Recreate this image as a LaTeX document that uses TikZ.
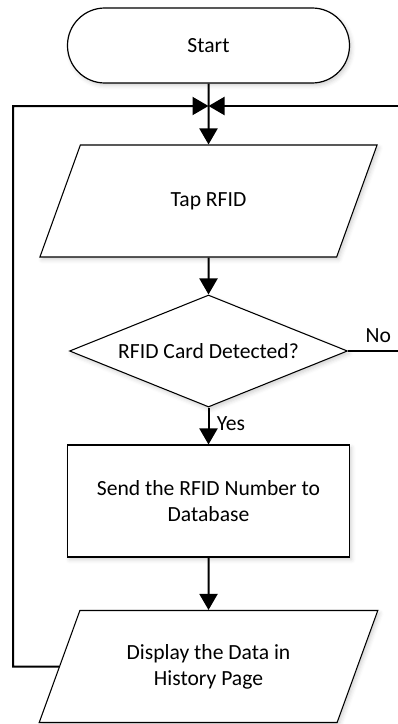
\documentclass[tikz,border=0pt]{standalone}
\usepackage{fontspec}
\setmainfont{Carlito}
\usetikzlibrary{shapes.geometric,arrows.meta,shadows.blur}

\begin{document}
\begin{tikzpicture}[x=0.75pt,y=-0.75pt,
    font=\fontsize{16.2}{19.5}\selectfont,
    glow/.style={blur shadow={shadow xshift=1.5pt,shadow yshift=-2pt,shadow opacity=18,shadow blur radius=3pt}},
    term/.style={draw,line width=0.9pt,fill=white,glow,rectangle,rounded corners=28pt,minimum width=211.5pt,minimum height=56.25pt},
    io/.style={draw,line width=0.8pt,fill=white,glow,trapezium,align=center,trapezium left angle=63,trapezium right angle=117,trapezium stretches=true,minimum width=254.25pt,minimum height=84pt},
    dec/.style={draw,line width=0.8pt,fill=white,glow,diamond,aspect=2.5,inner sep=0pt,minimum width=208.5pt,minimum height=84pt},
    proc/.style={draw,line width=0.8pt,fill=white,glow,rectangle,align=center,minimum width=211.5pt,minimum height=84pt},
    conn/.style={line width=1.5pt,-{Triangle[width=13.5pt,length=12pt]}}]

    \useasboundingbox (0,0) rectangle (397,724);

    % Start
    \node (start) [term] at (208.5,45.5) {Start};

    % Tap RFID
    \node (tap) [io] at (208.5,201) {Tap RFID};

    % RFID check
    \node (check) [dec] at (208.5,351) {RFID Card Detected?};

    % Send number
    \node (send) [proc] at (208.5,501) {Send the RFID Number to\\Database};

    % Display data
    \node (disp) [io] at (208.5,666.5) {Display the Data in\\History Page};

    % Labels
    \node (nolbl) [anchor=south west,inner sep=0pt] at ([xshift=13pt,yshift=6pt]check.east) {No};
    \node (yeslbl) [anchor=north west,inner sep=0pt] at ([xshift=6pt,yshift=-7pt]check.south) {Yes};

    % Connections
    \coordinate (join) at (208.5,106);
    \draw[conn] (start) -- (tap); % Start down to Tap RFID
    \draw[conn] (tap) -- (check); % Tap RFID to check
    \draw[conn] (check) -- (send); % Yes branch
    \draw[conn] (send) -- (disp); % Send to Display
    \draw[conn] (check.east) -- (410,351) |- (join); % No branch back to the top
    \draw[conn] (disp.west) -- (13,666.5) |- (join); % Loop from Display back to the top

\end{tikzpicture}
\end{document}
